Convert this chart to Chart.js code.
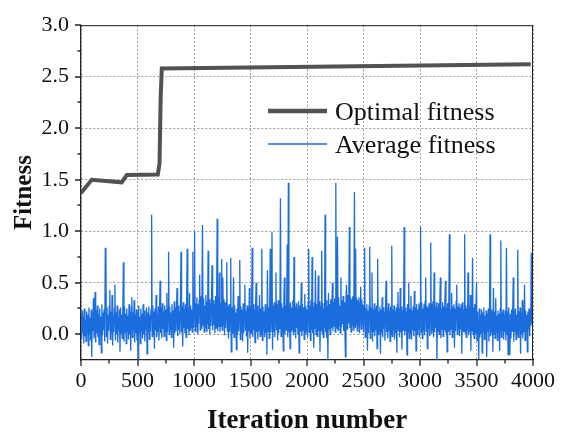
<!DOCTYPE html>
<html>
<head>
<meta charset="utf-8">
<script src="https://cdn.jsdelivr.net/npm/chart.js@4.4.1/dist/chart.umd.min.js"></script>
<style>
  body { margin: 0; background: #fff; }
  canvas { display: block; }
</style>
</head>
<body>
<canvas id="fitness-chart" width="564" height="433"></canvas>
<script>
// Best individual per generation (iteration, fitness)
const optimalIterations = [0, 95, 360, 405, 680, 695, 705, 715, 3980];
const optimalFitness = [1.37, 1.50, 1.475, 1.545, 1.55, 1.66, 2.30, 2.58, 2.622];

// Population average, one reading every 5 iterations (0 .. 4000)
const averageStep = 5;
const averageFitness = [
  0.20, -0.05, 0.23, 0.01, 0.17, -0.09, 0.25, -0.02, 0.14, -0.07,
  0.22, 0.02, 0.19, -0.11, 0.26, 0.00, 0.16, -0.06, 0.24, -0.22,
  0.21, 0.03, 0.35, -0.04, 0.18, 0.41, -0.08, 0.23, 0.01, 0.28,
  -0.03, 0.20, -0.10, 0.25, 0.02, 0.17, -0.18, 0.29, -0.01, 0.21,
  0.04, 0.24, -0.07, 0.84, 0.79, -0.02, 0.26, -0.09, 0.19, 0.03,
  0.27, 0.43, -0.05, 0.22, 0.01, 0.38, -0.11, 0.18, 0.02, 0.25,
  0.48, -0.06, 0.21, 0.00, 0.28, -0.08, 0.16, 0.03, 0.24, -0.17,
  0.26, 0.01, 0.19, -0.04, 0.23, 0.70, -0.07, 0.27, 0.02, 0.20,
  -0.09, 0.25, 0.03, 0.18, -0.05, 0.29, 0.00, 0.22, -0.16, 0.26,
  0.36, -0.03, 0.21, 0.04, 0.33, -0.08, 0.19, 0.01, 0.24, -0.06,
  0.22, -0.24, 0.28, 0.02, 0.17, -0.09, 0.25, 0.03, 0.20, -0.04,
  0.29, 0.00, 0.23, -0.07, 0.18, 0.04, 0.26, -0.19, 0.21, 0.02,
  0.27, -0.05, 0.19, 0.03, 0.24, 1.16, -0.02, 0.28, 0.01, 0.22,
  -0.14, 0.25, 0.04, 0.38, -0.03, 0.20, 0.02, 0.27, -0.06, 0.23,
  0.52, 0.01, 0.26, -0.04, 0.30, 0.05, 0.22, -0.02, 0.28, 0.03,
  0.24, -0.06, 0.40, 0.02, 0.25, 0.80, 0.00, 0.27, 0.04, 0.21,
  -0.03, 0.29, 0.05, 0.23, -0.13, 0.32, 0.01, 0.26, 0.03, 0.24,
  0.45, -0.02, 0.28, 0.04, 0.22, 0.00, 0.30, 0.80, 0.02, 0.27,
  -0.12, 0.31, 0.06, 0.25, 0.01, 0.29, -0.03, 0.33, 0.83, 0.05,
  0.26, -0.01, 0.40, 0.04, 0.28, 0.07, 0.24, 0.02, 0.80, 0.06,
  0.34, 1.00, 0.03, 0.30, 0.08, 0.36, 0.01, 0.29, 0.10, 0.33,
  0.58, 0.04, 0.37, 0.06, 0.31, 1.06, 0.09, 0.35, 0.02, 0.28,
  0.07, 0.38, 0.03, 0.32, 0.10, 0.81, 0.05, 0.34, 0.00, 0.30,
  0.08, 0.36, 0.67, 0.04, 0.33, 0.09, 0.29, 0.01, 0.37, 0.06,
  0.31, 1.12, 0.03, 0.35, 0.07, 0.60, 0.02, 0.30, 0.08, 0.73,
  0.04, 0.55, 0.09, 0.34, -0.01, 0.31, 0.06, 0.28, 0.70, 0.03,
  0.27, -0.04, 0.29, 0.02, 0.24, 0.74, -0.17, 0.26, 0.01, 0.23,
  0.55, -0.03, 0.28, 0.04, 0.21, -0.15, 0.25, 0.00, 0.37, 0.03,
  0.22, 0.72, -0.05, 0.27, 0.02, 0.24, -0.07, 0.30, 0.01, 0.26,
  0.48, 0.04, 0.23, -0.02, 0.28, -0.18, 0.25, 0.03, 0.45, -0.04,
  0.27, 0.01, 0.22, 0.84, -0.03, 0.29, 0.04, 0.24, -0.08, 0.26,
  0.50, 0.02, 0.28, -0.05, 0.23, 0.03, 0.38, -0.02, 0.25, 0.00,
  0.83, -0.06, 0.27, 0.04, 0.22, -0.03, 0.29, 0.01, 0.24, -0.20,
  0.62, 0.03, 0.26, -0.04, 0.28, 0.83, 0.02, 0.23, 0.99, -0.15,
  0.28, 0.02, 0.31, -0.03, 0.25, 0.60, 0.04, 0.29, -0.06, 0.33,
  0.01, 0.27, 0.05, 1.32, -0.02, 0.30, 0.03, 0.26, -0.16, 0.32,
  0.55, 0.00, 0.28, 0.04, 0.24, 0.87, -0.03, 1.47, 0.02, 0.29,
  -0.14, 0.31, 0.03, 0.26, 0.05, 0.33, -0.01, 0.75, 0.02, 0.27,
  -0.04, 0.30, 0.06, 0.25, 0.00, 0.32, -0.18, 0.28, 0.03, 0.24,
  0.50, -0.02, 0.29, 0.04, 0.26, -0.05, 0.39, 0.01, 0.27, 0.03,
  0.24, -0.03, 0.30, 0.83, 0.02, 0.28, -0.06, 0.33, 0.04, 0.75,
  0.01, 0.27, -0.13, 0.31, 0.05, 0.62, 0.00, 0.29, -0.02, 0.26,
  0.57, 0.03, 0.32, -0.17, 0.28, 0.04, 0.81, 0.01, 0.30, -0.03,
  0.25, 0.06, 1.16, 0.02, 0.33, -0.04, 0.27, -0.25, 0.40, 0.05,
  0.29, 0.00, 0.34, 0.07, 0.26, 0.50, 0.03, 0.31, 0.08, 0.35,
  0.02, 1.47, 0.06, 0.30, 0.95, 0.04, 0.36, 0.09, 0.28, 0.01,
  0.55, 0.07, 0.33, 0.10, 0.37, 0.03, 0.31, 0.08, -0.22, 0.35,
  0.48, 0.05, 0.38, 0.11, 0.32, 1.04, 0.06, 0.36, 0.02, 0.34,
  0.09, 0.37, 0.04, 0.31, 1.38, 0.07, 0.83, 0.10, 0.35, 0.03,
  0.33, 0.08, 0.36, 0.01, 0.30, 0.46, 0.05, 0.34, 0.09, 0.29,
  0.02, 0.27, 0.84, -0.03, 0.25, 0.04, 0.29, -0.16, 0.23, 0.01,
  0.28, 0.85, -0.04, 0.26, 0.03, 0.60, -0.07, 0.24, 0.02, 0.30,
  -0.02, 0.25, 0.04, 0.28, -0.14, 0.73, 0.00, 0.22, 0.03, 0.27,
  -0.19, 0.24, 0.01, 0.36, -0.03, 0.26, 0.05, 0.21, -0.06, 0.28,
  0.52, 0.02, 0.25, -0.04, 0.30, 0.03, 0.23, -0.07, 0.27, 0.00,
  0.86, -0.02, 0.24, 0.04, 0.28, -0.05, 0.22, 0.01, 0.26, -0.18,
  0.29, 0.41, 0.03, 0.25, -0.03, 0.45, 0.02, 0.27, -0.15, 0.23,
  0.04, 0.28, 1.04, -0.01, 0.26, 0.03, 0.22, -0.20, 0.29, 0.02,
  0.50, -0.04, 0.25, 0.01, 0.37, -0.05, 0.23, 0.04, 0.27, -0.02,
  0.42, 0.03, 0.26, -0.16, 0.29, 0.00, 0.24, 0.05, 0.30, -0.03,
  0.27, 1.04, 0.02, 0.31, -0.04, 0.25, 0.04, 0.29, -0.01, 0.32,
  0.55, 0.03, 0.28, -0.14, 0.26, 0.05, 0.30, -0.02, 0.24, 0.89,
  0.01, 0.29, 0.04, 0.32, -0.03, 0.60, 0.02, 0.27, 0.06, 0.31,
  -0.25, 0.26, 0.03, 0.30, 0.00, 0.28, 0.55, -0.04, 0.25, 0.05,
  0.31, -0.02, 0.27, 0.04, 0.29, 0.52, 0.01, 0.26, -0.17, 0.30,
  0.03, 0.28, 0.97, -0.01, 0.24, 0.05, 0.40, -0.03, 0.27, 0.02,
  0.29, -0.13, 0.25, 0.03, 0.32, 0.48, 0.00, 0.27, 0.04, 0.30,
  -0.02, 0.26, 0.05, 0.29, -0.19, 0.31, 0.02, 0.24, 0.03, 0.97,
  0.01, 0.28, -0.03, 0.25, 0.04, 0.60, -0.01, 0.27, 0.02, 0.38,
  -0.16, 0.24, 0.03, 0.74, 0.00, 0.26, -0.04, 0.29, 0.01, 0.23,
  0.50, -0.06, 0.22, 0.02, -0.24, 0.25, -0.03, 0.19, 0.01, 0.24,
  -0.18, 0.21, 0.03, 0.26, -0.05, 0.18, 0.00, 0.23, -0.22, 0.20,
  0.02, 0.25, -0.07, 0.19, 0.97, -0.02, 0.24, 0.01, 0.21, -0.17,
  0.45, 0.00, 0.22, -0.04, 0.35, 0.02, 0.18, -0.06, 0.23, 0.01,
  0.20, -0.16, 0.25, 0.91, -0.03, 0.21, 0.03, 0.24, -0.05, 0.19,
  0.02, 0.23, -0.06, 0.84, 0.00, 0.22, -0.20, 0.26, 0.01, -0.20,
  0.20, -0.04, 0.24, 0.03, 0.18, 0.55, -0.07, 0.23, 0.02, 0.25,
  -0.05, 0.19, 0.01, 0.82, -0.03, 0.22, 0.04, 0.26, -0.19, 0.21,
  0.00, 0.33, -0.04, 0.20, 0.02, 0.48, -0.06, 0.23, 0.03, 0.19,
  -0.17, 0.22, 0.05, 0.25, -0.02, 0.18, 0.08, 0.79, 0.10, 0.15,
  0.23
];

const xTicks = [0, 500, 1000, 1500, 2000, 2500, 3000, 3500, 4000];
const yTicks = [0, 0.5, 1.0, 1.5, 2.0, 2.5, 3.0];
const seriesNames = ['Optimal fitness', 'Average fitness'];

const SERIF = "'Liberation Serif', 'Times New Roman', serif";
const GRAY_LINE = '#525252';
const BLUE_LINE = '#1b6cdd';

// tick marks (major + minor), the box on top/right, and the legend inside the plot
const frameAndLegend = {
    id: 'frameAndLegend',
    afterDraw(chart) {
        const { ctx, chartArea: area, scales } = chart;
        ctx.save();
        ctx.strokeStyle = '#222';
        ctx.lineWidth = 1;
        ctx.beginPath();
        ctx.moveTo(area.left, area.top + 0.5);
        ctx.lineTo(area.right, area.top + 0.5);
        ctx.moveTo(area.right - 0.5, area.top);
        ctx.lineTo(area.right - 0.5, area.bottom);
        ctx.stroke();

        ctx.lineWidth = 1.3;
        ctx.beginPath();
        xTicks.forEach((v, i) => {
            const px = Math.round(scales.x.getPixelForValue(v));
            ctx.moveTo(px, area.bottom); ctx.lineTo(px, area.bottom + 6);
            if (i < xTicks.length - 1) {
                const mx = Math.round(scales.x.getPixelForValue((v + xTicks[i + 1]) / 2));
                ctx.moveTo(mx, area.bottom); ctx.lineTo(mx, area.bottom + 3.5);
            }
        });
        yTicks.forEach((v, i) => {
            const py = Math.round(scales.y.getPixelForValue(v));
            ctx.moveTo(area.left, py); ctx.lineTo(area.left - 6, py);
            if (i < yTicks.length - 1) {
                const my = Math.round(scales.y.getPixelForValue((v + yTicks[i + 1]) / 2));
                ctx.moveTo(area.left, my); ctx.lineTo(area.left - 3.5, my);
            }
        });
        ctx.stroke();

        // legend
        const lx = 268, ly = 111, gap = 33;
        ctx.font = '26px ' + SERIF;
        ctx.fillStyle = '#111';
        ctx.textBaseline = 'alphabetic';
        chart.data.datasets.forEach((ds, i) => {
            const y = ly + i * gap;
            ctx.strokeStyle = ds.borderColor;
            ctx.lineWidth = i === 0 ? 4.5 : 1.3;
            ctx.beginPath();
            ctx.moveTo(lx, y); ctx.lineTo(lx + 59, y);
            ctx.stroke();
            ctx.fillText(ds.label, lx + 67, y + 9);
        });
        ctx.restore();
    }
};

const chart = new Chart(document.getElementById('fitness-chart'), {
    type: 'line',
    data: {
        datasets: [
            {
                label: seriesNames[0],
                data: optimalIterations.map((x, i) => ({ x, y: optimalFitness[i] })),
                borderColor: GRAY_LINE,
                borderWidth: 4,
                pointRadius: 0,
                tension: 0,
                order: 0
            },
            {
                label: seriesNames[1],
                data: averageFitness.map((y, i) => ({ x: i * averageStep, y })),
                borderColor: BLUE_LINE,
                borderWidth: 1.3,
                pointRadius: 0,
                tension: 0,
                order: 1
            }
        ]
    },
    options: {
        responsive: false,
        animation: false,
        layout: { padding: { left: 0, top: 20, right: 31, bottom: 0 } },
        plugins: {
            legend: { display: false },
            tooltip: { enabled: false }
        },
        scales: {
            x: {
                type: 'linear',
                min: 0,
                max: 4000,
                afterFit: (scale) => { scale.height = 73; },
                afterBuildTicks: (scale) => { scale.ticks = xTicks.map(value => ({ value })); },
                grid: { color: '#9a9a9a', lineWidth: 1, drawTicks: false },
                border: { display: true, color: '#222', width: 1.3, dash: [2, 2] },
                ticks: {
                    autoSkip: false,
                    maxRotation: 0,
                    padding: 8,
                    color: '#111',
                    font: { family: SERIF, size: 22 },
                    callback: (v) => String(v)
                },
                title: {
                    display: true,
                    text: 'Iteration number',
                    color: '#111',
                    font: { family: SERIF, size: 27, weight: 'bold', lineHeight: 0.9 },
                    padding: { top: 0, bottom: 0 }
                }
            },
            y: {
                type: 'linear',
                min: -0.25,
                max: 3.0,
                afterFit: (scale) => { scale.width = 81; },
                afterBuildTicks: (scale) => { scale.ticks = yTicks.map(value => ({ value })); },
                grid: { color: '#9a9a9a', lineWidth: 1, drawTicks: false },
                border: { display: true, color: '#222', width: 1.3, dash: [2, 2] },
                ticks: {
                    padding: 12,
                    color: '#111',
                    font: { family: SERIF, size: 22 },
                    callback: (v) => Number(v).toFixed(1)
                },
                title: {
                    display: true,
                    text: 'Fitness',
                    color: '#111',
                    font: { family: SERIF, size: 25, weight: 'bold', lineHeight: 0.9 },
                    padding: { top: 13, bottom: 0 }
                }
            }
        }
    },
    plugins: [frameAndLegend]
});
</script>
</body>
</html>
